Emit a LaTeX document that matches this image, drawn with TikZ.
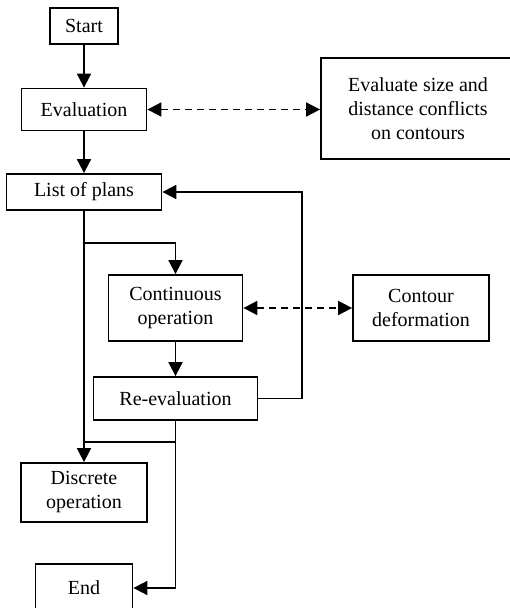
\documentclass[tikz,border=0pt]{standalone}
\usepackage{fontspec}
\setmainfont{Liberation Serif}
\usetikzlibrary{arrows.meta}
\begin{document}
\begin{tikzpicture}[x=1pt,y=-1pt,
  box/.style={draw,line width=1.8pt,align=center,inner sep=0pt,
    font=\fontsize{20}{24}\selectfont},
  conn/.style={line width=1.8pt},
  arr/.style={conn,-{Triangle[length=14pt,width=14pt]}},
  darr/.style={conn,{Triangle[length=14pt,width=14pt]}-{Triangle[length=14pt,width=14pt]},dash pattern=on 7pt off 5pt}]
\useasboundingbox (0,0) rectangle (509,608);
\node[box,minimum width=68pt,minimum height=36pt] (start) at (84,26) {Start};
\node[box,minimum width=125pt,minimum height=42pt] (eval) at (84,109.5) {Evaluation};
\node[box,minimum width=155pt,minimum height=36pt] (list) at (84,192) {List of plans};
\node[box,minimum width=194pt,minimum height=101pt] (right) at (418,108.5) {Evaluate size and\\distance conflicts\\on contours};
\node[box,minimum width=134pt,minimum height=66pt] (cont) at (175.5,308) {Continuous\\operation};
\node[box,minimum width=136pt,minimum height=66pt] (cdef) at (421,308) {Contour\\deformation};
\node[box,minimum width=164pt,minimum height=43pt] (reev) at (175.5,398.5) {Re-evaluation};
\node[box,minimum width=126pt,minimum height=59pt] (disc) at (84,492.5) {Discrete\\operation};
\node[box,minimum width=97pt,minimum height=48pt] (end) at (84,588) {End};
\coordinate (b1) at (84,243);
\coordinate (lp) at (302,192);
\coordinate (b2) at (175.5,442);
\coordinate (b3) at (84,442);
\draw[arr] (start) -- (eval);
\draw[arr] (eval) -- (list);
\draw[darr] (eval.east) -- (eval.east -| right.west);
\draw[arr] (list.south) -- (disc.north);
\draw[arr] (b1) -| (cont.north);
\draw[arr] (cont) -- (reev);
\draw[darr] (cont.east) -- (cdef.west);
\draw[arr] (reev.east) -| (lp) -- (list.east);
\draw[conn] (reev.south) -- (b2) -- (b3);
\draw[arr] (b2) |- (end.east);
\end{tikzpicture}
\end{document}
